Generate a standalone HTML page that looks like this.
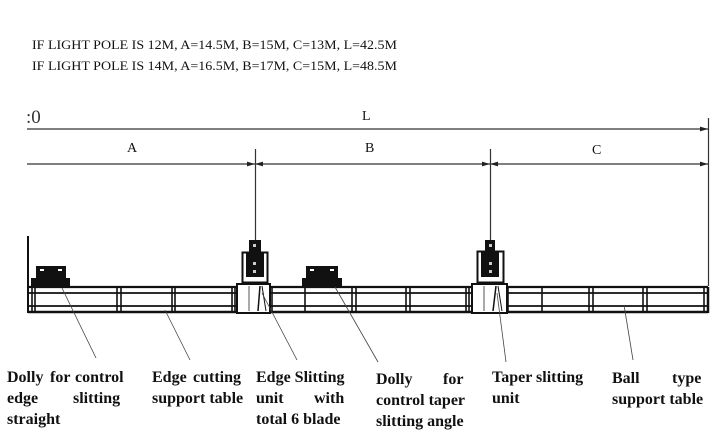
<!DOCTYPE html>
<html><head><meta charset="utf-8"><style>
html,body{margin:0;padding:0;background:#fff;}
svg{display:block;}
.b{font-family:"Liberation Serif",serif;font-weight:bold;font-size:16px;fill:#111;}
.h{font-family:"Liberation Serif",serif;font-size:13px;fill:#111;}
</style></head><body>
<svg width="724" height="448" viewBox="0 0 724 448" xmlns="http://www.w3.org/2000/svg">
<defs>
<marker id="ar" viewBox="0 0 10 6" refX="10" refY="3" markerWidth="8" markerHeight="5" orient="auto-start-reverse" markerUnits="userSpaceOnUse"><path d="M0,0 L10,3 L0,6 z" fill="#222"/></marker>
</defs>
<text class="h" x="32" y="49" textLength="365" lengthAdjust="spacingAndGlyphs">IF LIGHT POLE IS 12M, A=14.5M, B=15M, C=13M, L=42.5M</text>
<text class="h" x="32" y="70" textLength="365" lengthAdjust="spacingAndGlyphs">IF LIGHT POLE IS 14M, A=16.5M, B=17M, C=15M, L=48.5M</text>
<text x="26" y="123" font-family="Liberation Serif,serif" font-size="19" fill="#333">:0</text>
<text x="362" y="120" font-family="Liberation Serif,serif" font-size="14" fill="#111">L</text>
<text x="127" y="152" font-family="Liberation Serif,serif" font-size="14" fill="#111">A</text>
<text x="365" y="152" font-family="Liberation Serif,serif" font-size="14" fill="#111">B</text>
<text x="592" y="154" font-family="Liberation Serif,serif" font-size="14" fill="#111">C</text>
<g stroke="#333" stroke-width="1.2" fill="none">
<line x1="27" y1="129" x2="708" y2="129" marker-end="url(#ar)"/>
<line x1="27" y1="164" x2="255" y2="164" marker-end="url(#ar)"/>
<line x1="255" y1="164" x2="490" y2="164" marker-start="url(#ar)" marker-end="url(#ar)"/>
<line x1="490" y1="164" x2="708" y2="164" marker-start="url(#ar)" marker-end="url(#ar)"/>
<line x1="255.5" y1="149" x2="255.5" y2="240"/>
<line x1="490.5" y1="149" x2="490.5" y2="240"/>
<line x1="708.5" y1="118" x2="708.5" y2="286"/>
</g>
<g stroke="#111" fill="none">
<line x1="28" y1="287" x2="708" y2="287" stroke-width="2.2"/>
<line x1="28" y1="293" x2="708" y2="293" stroke-width="1.8"/>
<line x1="28" y1="306" x2="708" y2="306" stroke-width="1.8"/>
<line x1="28" y1="312" x2="708" y2="312" stroke-width="2.4"/>
<line x1="28" y1="236" x2="28" y2="313" stroke-width="2"/>
<line x1="708" y1="287" x2="708" y2="313" stroke-width="2.5"/>
<g stroke-width="1.6">
<line x1="32" y1="287" x2="32" y2="312"/><line x1="35" y1="287" x2="35" y2="312"/>
<line x1="117" y1="287" x2="117" y2="312"/><line x1="121" y1="287" x2="121" y2="312"/>
<line x1="172" y1="287" x2="172" y2="312"/><line x1="175" y1="287" x2="175" y2="312"/>
<line x1="232" y1="287" x2="232" y2="312"/><line x1="235" y1="287" x2="235" y2="312"/>
<line x1="272" y1="287" x2="272" y2="312"/>
<line x1="305" y1="287" x2="305" y2="312"/>
<line x1="352" y1="287" x2="352" y2="312"/><line x1="356" y1="287" x2="356" y2="312"/>
<line x1="406" y1="287" x2="406" y2="312"/><line x1="410" y1="287" x2="410" y2="312"/>
<line x1="466" y1="287" x2="466" y2="312"/><line x1="469" y1="287" x2="469" y2="312"/>
<line x1="508" y1="287" x2="508" y2="312"/>
<line x1="542" y1="287" x2="542" y2="312"/>
<line x1="589" y1="287" x2="589" y2="312"/><line x1="593" y1="287" x2="593" y2="312"/>
<line x1="643" y1="287" x2="643" y2="312"/><line x1="647" y1="287" x2="647" y2="312"/>
<line x1="704" y1="287" x2="704" y2="312"/>
</g>
</g>
<g fill="#111">
<rect x="36" y="266" width="30" height="14"/><rect x="31" y="278" width="39" height="9"/>
<rect x="306" y="266" width="32" height="14"/><rect x="302" y="278" width="40" height="9"/>
</g>
<g fill="#fff">
<rect x="40" y="269" width="4" height="2"/><rect x="58" y="269" width="4" height="2"/>
<rect x="310" y="269" width="4" height="2"/><rect x="330" y="269" width="4" height="2"/>
</g>
<g>
<rect x="237" y="284" width="33" height="29" fill="#fff" stroke="#111" stroke-width="2"/>
<line x1="249" y1="286" x2="249" y2="311" stroke="#555"/><line x1="260" y1="286" x2="258" y2="311" stroke="#111" stroke-width="1.5"/><line x1="262" y1="286" x2="266" y2="311" stroke="#111"/>
<rect x="242.5" y="252.5" width="25" height="30" fill="#fff" stroke="#111" stroke-width="2"/>
<rect x="246" y="253" width="18" height="24" fill="#111"/>
<rect x="249" y="240" width="12" height="14" fill="#111"/>
<rect x="253" y="244" width="3" height="3" fill="#ccc"/><rect x="253" y="262" width="3" height="3" fill="#ccc"/><rect x="253" y="270" width="3" height="3" fill="#ccc"/>
<rect x="472" y="284" width="35" height="29" fill="#fff" stroke="#111" stroke-width="2"/>
<line x1="484" y1="286" x2="484" y2="311" stroke="#555"/><line x1="496" y1="286" x2="493" y2="311" stroke="#111" stroke-width="1.5"/><line x1="498" y1="286" x2="502" y2="311" stroke="#111"/>
<rect x="477.5" y="251.5" width="26" height="31" fill="#fff" stroke="#111" stroke-width="2"/>
<rect x="481" y="252" width="18" height="25" fill="#111"/>
<rect x="485" y="240" width="10" height="13" fill="#111"/>
<rect x="489" y="244" width="3" height="3" fill="#ccc"/><rect x="489" y="262" width="3" height="3" fill="#ccc"/><rect x="489" y="270" width="3" height="3" fill="#ccc"/>
</g>
<g stroke="#444" stroke-width="0.8">
<line x1="62" y1="288" x2="96" y2="358"/>
<line x1="165" y1="310" x2="190" y2="360"/>
<line x1="262" y1="293" x2="297" y2="360"/>
<line x1="335" y1="287" x2="378" y2="362"/>
<line x1="497" y1="293" x2="506" y2="362"/>
<line x1="624" y1="305" x2="633" y2="360"/>
</g>
<g class="b">
<text x="7" y="382">Dolly</text><text x="50" y="382">for</text><text x="75" y="382">control</text>
<text x="7" y="403">edge</text><text x="73" y="403">slitting</text>
<text x="7" y="424">straight</text>
<text x="152" y="382">Edge</text><text x="193" y="382">cutting</text>
<text x="152" y="403">support table</text>
<text x="256" y="382">Edge Slitting</text>
<text x="256" y="403">unit</text><text x="314" y="403">with</text>
<text x="256" y="424">total 6 blade</text>
<text x="376" y="384">Dolly</text><text x="443" y="384">for</text>
<text x="376" y="405">control taper</text>
<text x="376" y="426">slitting angle</text>
<text x="492" y="382">Taper slitting</text>
<text x="492" y="403">unit</text>
<text x="612" y="383">Ball</text><text x="672" y="383">type</text>
<text x="612" y="404">support table</text>
</g>
</svg>
</body></html>
